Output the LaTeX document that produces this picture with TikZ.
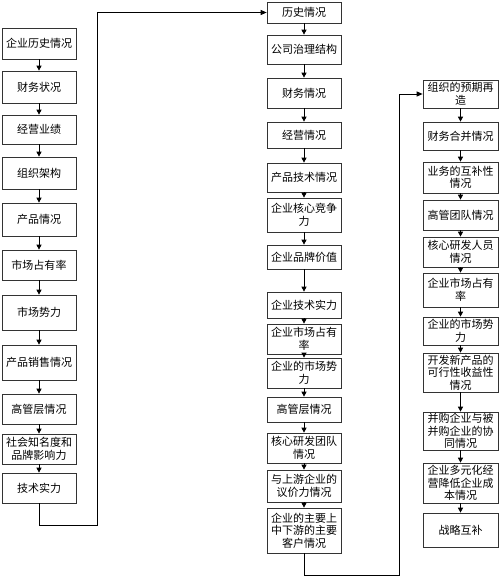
\documentclass[tikz,border=0pt]{standalone}
\usepackage{fontspec}
\setmainfont{Noto Sans CJK SC}
\usetikzlibrary{arrows.meta}
\begin{document}
\begin{tikzpicture}[x=1pt,y=-1pt,
  box/.style={draw=black!80,line width=0.7pt,fill=white,inner sep=0.5pt,align=center,
    font=\fontsize{11}{12.5}\selectfont},
  arr/.style={line width=0.8pt,-{Triangle[length=5pt,width=5pt]}},
  lnk/.style={line width=0.9pt,-{Triangle[length=6pt,width=5pt]}}]
\useasboundingbox (0,0) rectangle (500,578);
\newcommand\bx[6]{\node[box,minimum width=#3pt,minimum height=#5pt] (#1) at (#2,#4) {#6};}
% column 1
\bx{a1}{39}{74}{43.5}{31}{企业历史情况}
\bx{a2}{39}{74}{87}{32}{财务状况}
\bx{a3}{39}{74}{129.5}{29}{经营业绩}
\bx{a4}{39}{74}{173}{32}{组织架构}
\bx{a5}{39}{74}{219.5}{33}{产品情况}
\bx{a6}{39}{74}{265}{30}{市场占有率}
\bx{a7}{39}{74}{312.5}{35}{市场势力}
\bx{a8}{39}{74}{362.5}{35}{产品销售情况}
\bx{a9}{39}{74}{409}{30}{高管层情况}
\bx{a10}{39}{74}{449}{30}{社会知名度和\\品牌影响力}
\bx{a11}{39}{74}{488}{30}{技术实力}
% column 2
\bx{b1}{304}{74}{12.5}{21}{历史情况}
\bx{b2}{304}{74}{49.5}{29}{公司治理结构}
\bx{b3}{304}{74}{93}{30}{财务情况}
\bx{b4}{304}{74}{135}{26}{经营情况}
\bx{b5}{304}{74}{177.5}{29}{产品技术情况}
\bx{b6}{304}{74}{215}{34}{企业核心竞争\\力}
\bx{b7}{304}{74}{257}{24}{企业品牌价值}
\bx{b8}{304}{74}{305}{26}{企业技术实力}
\bx{b9}{304}{74}{339}{30}{企业市场占有\\率}
\bx{b10}{304}{74}{373}{30}{企业的市场势\\力}
\bx{b11}{304}{74}{409.5}{25}{高管层情况}
\bx{b12}{304}{74}{448}{30}{核心研发团队\\情况}
\bx{b13}{304}{74}{486}{32}{与上游企业的\\议价力情况}
\bx{b14}{304}{74}{530.5}{45}{企业的主要上\\中下游的主要\\客户情况}
% column 3
\bx{c1}{460.5}{75}{94}{28}{组织的预期再\\造}
\bx{c2}{460.5}{75}{136}{28}{财务合并情况}
\bx{c3}{460.5}{75}{177.5}{31}{业务的互补性\\情况}
\bx{c4}{460.5}{75}{215}{30}{高管团队情况}
\bx{c5}{460.5}{75}{252}{30}{核心研发人员\\情况}
\bx{c6}{460.5}{75}{290}{34}{企业市场占有\\率}
\bx{c7}{460.5}{75}{331}{28}{企业的市场势\\力}
\bx{c8}{460.5}{75}{372.5}{39}{开发新产品的\\可行性收益性\\情况}
\bx{c9}{460.5}{75}{431}{38}{并购企业与被\\并购企业的协\\同情况}
\bx{c10}{460.5}{75}{483}{40}{企业多元化经\\营降低企业成\\本情况}
\bx{c11}{460.5}{75}{530}{34}{战略互补}
% vertical arrows
\foreach \i [evaluate=\i as \j using int(\i+1)] in {1,...,10} \draw[arr] (a\i) -- (a\j);
\foreach \i [evaluate=\i as \j using int(\i+1)] in {1,...,13} \draw[arr] (b\i) -- (b\j);
\foreach \i [evaluate=\i as \j using int(\i+1)] in {1,...,10} \draw[arr] (c\i) -- (c\j);
% links between columns
\coordinate (k1) at (97,525);
\coordinate (k2) at (399,575);
\draw[lnk] (a11.south) |- (k1) |- (b1.west);
\draw[lnk] (b14.south) |- (k2) |- (c1.west);
\end{tikzpicture}
\end{document}
